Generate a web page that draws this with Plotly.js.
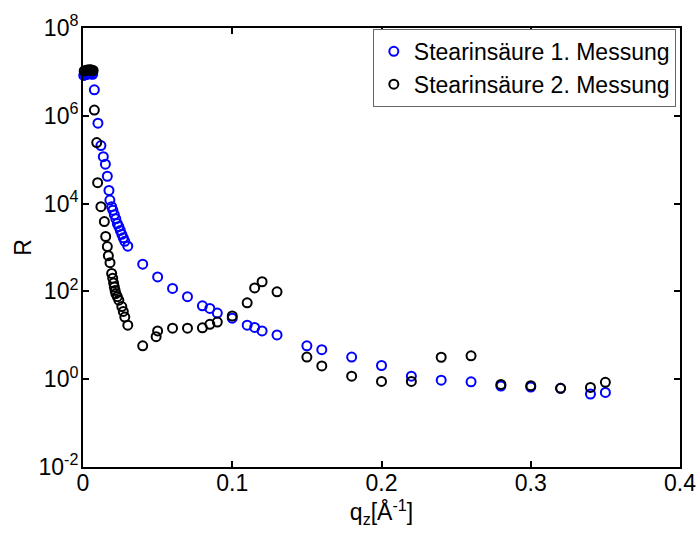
<!DOCTYPE html>
<html>
<head>
<meta charset="utf-8">
<script src="https://cdn.plot.ly/plotly-3.0.1.min.js"></script>
<style>html,body{margin:0;padding:0;background:#fff}#chart{width:697px;height:536px}</style>
</head>
<body>
<div id="chart"></div>
<script>
// Stearinsäure 1. Messung
const q1 = [0.0005,0.0015,0.0025,0.0035,0.0045,0.0055,0.0065,0.0076,0.010,0.012,0.0136,0.015,0.0163,0.0174,0.018,0.0192,0.020,0.021,0.022,0.023,0.024,0.025,0.026,0.027,0.028,0.030,0.040,0.050,0.060,0.070,0.080,0.085,0.090,0.100,0.110,0.115,0.120,0.130,0.150,0.160,0.180,0.200,0.220,0.240,0.260,0.280,0.300,0.320,0.340,0.350];
const R1 = [8.3e6,8.6e6,8.8e6,9.0e6,9.2e6,9.0e6,8.8e6,3.9e6,6.8e5,2.1e5,1.17e5,7.9e4,4.2e4,2.0e4,1.2e4,8.5e3,7.1e3,5.6e3,4.5e3,3.5e3,3.0e3,2.45e3,2.0e3,1.66e3,1.38e3,1.07e3,417,214,117,76,47,41,32,24.5,17,15.1,12.6,10.2,5.75,4.7,3.2,2.05,1.17,0.95,0.87,0.70,0.66,0.62,0.46,0.50];
// Stearinsäure 2. Messung
const q2 = [0.0008,0.0018,0.0028,0.0038,0.0048,0.0058,0.0068,0.0076,0.0092,0.0098,0.012,0.0143,0.0152,0.0163,0.017,0.0181,0.0192,0.0199,0.0205,0.021,0.0215,0.022,0.023,0.024,0.026,0.027,0.028,0.030,0.040,0.049,0.050,0.060,0.070,0.080,0.085,0.090,0.100,0.110,0.115,0.120,0.130,0.150,0.160,0.180,0.200,0.220,0.240,0.260,0.280,0.300,0.320,0.340,0.350];
const R2 = [1.05e7,1.08e7,1.1e7,1.1e7,1.12e7,1.1e7,1.08e7,1.35e6,2.45e5,3.0e4,8.5e3,3.9e3,1.78e3,1.05e3,650,450,257,200,155,126,105,89,76,63,45,35,26,17,5.75,9.3,12.6,14.5,14.5,14.8,17.8,20,27.5,55,120,166,98,3.2,2.0,1.17,0.89,0.89,3.16,3.4,0.76,0.71,0.62,0.65,0.85];
const names = ['Stearinsäure 1. Messung','Stearinsäure 2. Messung'];
const yTickVals = [1e-2,1,1e2,1e4,1e6,1e8];
const yTickText = ['10<sup>-2</sup>','10<sup>0</sup>','10<sup>2</sup>','10<sup>4</sup>','10<sup>6</sup>','10<sup>8</sup>'];
const xTickVals = [0,0.1,0.2,0.3,0.4];
const xTickText = ['0','0.1','0.2','0.3','0.4'];

const font = 'Liberation Sans, Arial, Helvetica, sans-serif';
const mk = (c) => ({symbol:'circle-open', size:9, color:c, line:{width:2, color:c}});
const traces = [
  {x:q1, y:R1, name:names[0], type:'scatter', mode:'markers', marker:mk('#0000ff'), cliponaxis:false},
  {x:q2, y:R2, name:names[1], type:'scatter', mode:'markers', marker:mk('#000000'), cliponaxis:false}
];
const axisCommon = {showline:true, linewidth:2, linecolor:'#000', mirror:'allticks', ticks:'inside', ticklen:6, tickwidth:2, tickcolor:'#000', showgrid:false, zeroline:false, tickfont:{family:font, size:23, color:'#000'}};
const layout = {
  width:697, height:536,
  margin:{l:83, r:17, t:28, b:69},
  paper_bgcolor:'#fff', plot_bgcolor:'#fff',
  font:{family:font, size:23, color:'#000'},
  showlegend:true,
  legend:{x:0.993, y:0.998, xanchor:'right', yanchor:'top', bgcolor:'#fff', bordercolor:'#666', borderwidth:1, font:{family:font, size:23, color:'#000'}, itemwidth:30, tracegroupgap:0},
  xaxis:Object.assign({}, axisCommon, {range:[0,0.4], tickvals:xTickVals, ticktext:xTickText, ticklabelstandoff:-6,
    title:{text:'q<sub>z</sub>[Å<sup>-1</sup>]', font:{family:font, size:23, color:'#000'}, standoff:8}}),
  yaxis:Object.assign({}, axisCommon, {type:'log', range:[-2,8], tickvals:yTickVals, ticktext:yTickText, ticklabelstandoff:-2,
    title:{text:'R', font:{family:font, size:23, color:'#000'}, standoff:0}})
};
Plotly.newPlot('chart', traces, layout, {displayModeBar:false, staticPlot:true});
</script>
</body>
</html>
